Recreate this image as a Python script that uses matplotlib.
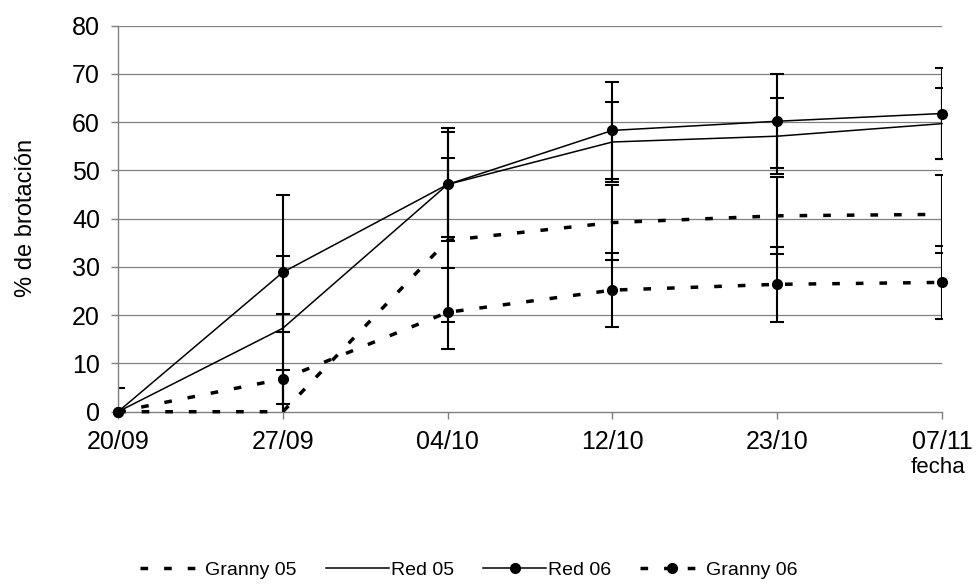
import numpy as np
import matplotlib.pyplot as plt

plt.rcParams['font.family'] = ['Liberation Sans', 'DejaVu Sans']

fechas = ['20/09', '27/09', '04/10', '12/10', '23/10', '07/11']

granny05 = [0, 0, 35.5, 39.2, 40.6, 40.9]
red05 = [0, 17.3, 47.1, 55.9, 57.1, 59.7]
red06 = [0, 28.9, 47.1, 58.3, 60.2, 61.8]
granny06 = [0, 6.8, 20.6, 25.2, 26.4, 26.8]

# barras de error (abajo, arriba)
granny05_inf = [0, 8.6, 17.0, 7.8, 8.0, 8.1]
granny05_sup = [0, 8.6, 17.0, 7.8, 8.0, 8.1]
red05_inf = [0, 15.6, 10.9, 8.2, 7.9, 7.3]
red05_sup = [0, 14.9, 10.9, 8.2, 7.9, 7.3]
red06_inf = [0, 12.4, 11.8, 10.0, 9.7, 9.5]
red06_sup = [5.0, 16.1, 11.8, 10.0, 9.7, 9.5]
granny06_inf = [0, 13.4, 7.5, 7.6, 7.8, 7.6]
granny06_sup = [0, 13.4, 9.2, 7.6, 7.8, 7.6]

x = np.arange(len(fechas))

fig = plt.figure(figsize=(9.78, 5.88), dpi=100)
ax = fig.add_axes([0.1207, 0.2998, 0.8425, 0.6565])

gris = '#808080'
for y in range(10, 90, 10):
    ax.axhline(y, color=gris, lw=0.9, zorder=0)

discont = dict(ls='--', lw=2.5, dashes=(2.2, 4.6))
series = [
    (granny05, granny05_inf, granny05_sup, 'Granny 05', discont),
    (red05, red05_inf, red05_sup, 'Red 05', dict(ls='-', lw=1.1)),
    (red06, red06_inf, red06_sup, 'Red 06', dict(ls='-', lw=1.1, marker='o', ms=7)),
    (granny06, granny06_inf, granny06_sup, 'Granny 06', dict(discont, marker='o', ms=7)),
]

for vals, inf, sup, nombre, estilo in series:
    ax.errorbar(x, vals, yerr=[inf, sup], fmt='none', ecolor='black', elinewidth=1.5,
                capsize=5, capthick=1.5, zorder=2)
    ax.plot(x, vals, color='black', label=nombre, clip_on=False, zorder=3, **estilo)

ax.set_xlim(0, 5)
ax.set_ylim(0, 80)
ax.set_xticks(x)
ax.set_xticklabels(fechas)
ax.set_yticks(range(0, 90, 10))

for s in ['top', 'right']:
    ax.spines[s].set_visible(False)
for s in ['left', 'bottom']:
    ax.spines[s].set_color(gris)
    ax.spines[s].set_linewidth(1)
ax.tick_params(axis='both', colors=gris, labelcolor='black', labelsize=18, length=5, width=1)
ax.tick_params(axis='x', pad=8)
ax.tick_params(axis='y', pad=8)

ax.set_ylabel('% de brotación', fontsize=17)
ax.yaxis.set_label_coords(-0.098, 0.502)
fig.text(0.987, 0.205, 'fecha', fontsize=16, ha='right', va='center')

fig.legend(loc='center', bbox_to_anchor=(0.479, 0.031), ncol=4, frameon=False,
           fontsize=14, handlelength=3.25, columnspacing=1.5, handletextpad=0.1)

fig.savefig('out.png', dpi=100)
